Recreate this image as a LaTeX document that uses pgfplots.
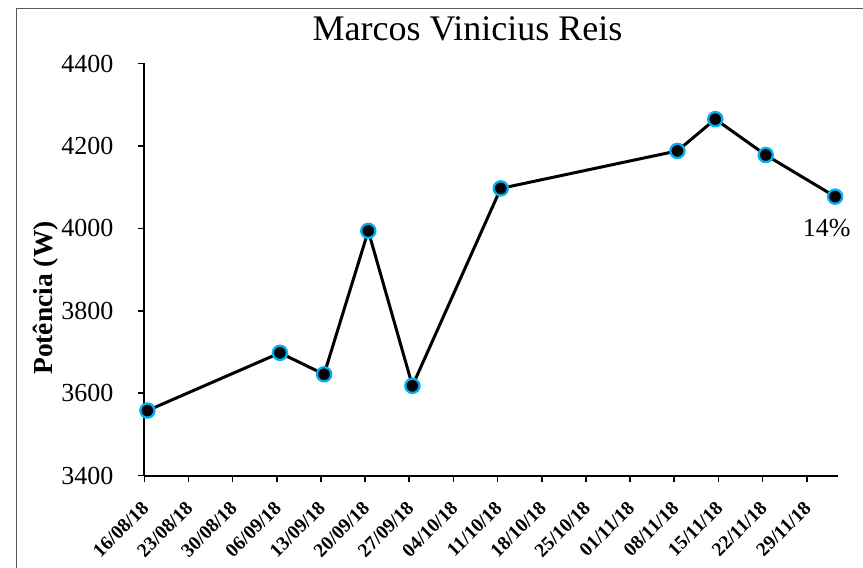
\documentclass[border=0pt]{standalone}
\usepackage{pgfplots}
\pgfplotsset{compat=1.18}
\usepackage{fontspec}
\setmainfont{Liberation Serif}
\definecolor{mkedge}{HTML}{00B0F0}
\definecolor{framecol}{HTML}{595959}
\begin{document}
\begin{tikzpicture}[x=1pt,y=1pt]
\useasboundingbox (0,0) rectangle (863,568);
\draw[framecol, line width=1pt] (16.3,-20) -- (16.3,559.7) -- (900,559.7);
\begin{axis}[
  at={(144.3pt,92.3pt)}, anchor=south west,
  scale only axis, width=694pt, height=412.2pt,
  xmin=0, xmax=110, ymin=3400, ymax=4400,
  axis lines*=left,
  axis line style={line width=1.8pt, black},
  clip=false,
  xtick={0,7,...,105},
  xticklabels={16/08/18,23/08/18,30/08/18,06/09/18,13/09/18,20/09/18,27/09/18,04/10/18,11/10/18,18/10/18,25/10/18,01/11/18,08/11/18,15/11/18,22/11/18,29/11/18},
  ytick={3400,3600,3800,4000,4200,4400},
  yticklabels={3400,3600,3800,4000,4200,4400},
  tick align=outside,
  major tick length=6.5pt,
  tick style={line width=1.6pt, black},
  yticklabel style={font=\fontsize{26}{30}\selectfont, anchor=east, inner sep=0pt, xshift=-24.3pt},
  xticklabel style={yshift=-22.6pt, xshift=1pt, rotate=45, anchor=east, inner sep=0pt, font=\bfseries\fontsize{19.5}{22}\selectfont},
  ylabel={Potência (W)},
  ylabel style={at={(axis description cs:-0.1416,0.4311)}, anchor=center, font=\bfseries\fontsize{27.5}{32}\selectfont},
  title={Marcos Vinicius Reis},
  title style={at={(axis description cs:0.4657,1.0408)}, anchor=base, font=\fontsize{36}{40}\selectfont, inner sep=0pt},
]
\addplot[black, line width=3pt, mark=*, mark size=7.1pt,
  mark options={fill=black, draw=mkedge, line width=2.3pt}]
  coordinates {
  (0.5,3558) (21.5,3698) (28.5,3646) (35.5,3994) (42.5,3618)
  (56.5,4097) (84.5,4188) (90.5,4265) (98.5,4178) (109.5,4077)
  };
\node[anchor=base, xshift=-8.5pt, yshift=-40pt, font=\fontsize{26}{30}\selectfont, inner sep=0pt] at (axis cs:109.5,4077) {14\%};
\end{axis}
\end{tikzpicture}
\end{document}
